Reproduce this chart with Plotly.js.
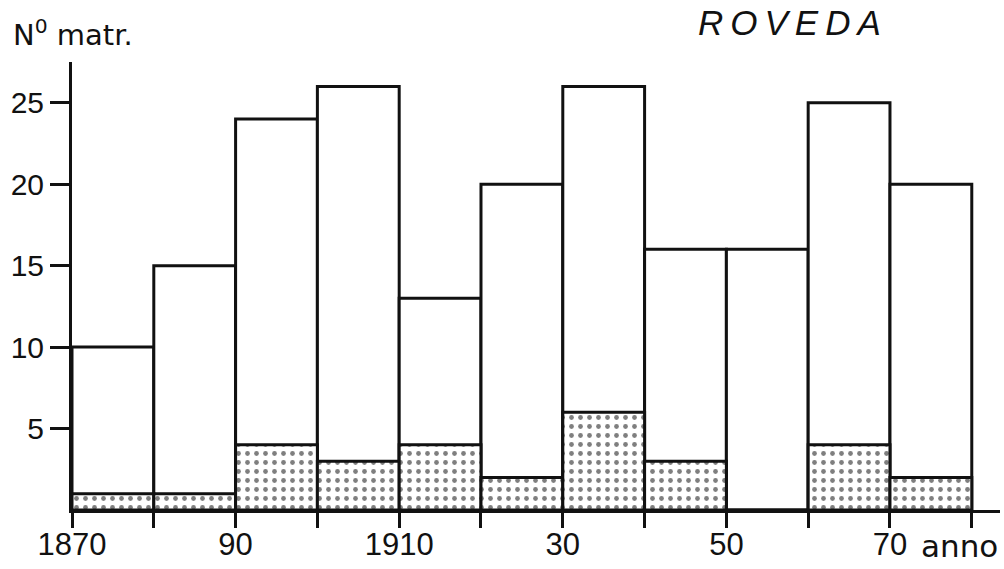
<!DOCTYPE html>
<html>
<head>
<meta charset="utf-8">
<script src="https://cdn.plot.ly/plotly-3.0.1.min.js"></script>
<style>
html,body{margin:0;padding:0;background:#fff;}
#chart{width:1004px;height:569px;}
</style>
</head>
<body>
<div id="chart"></div>
<script>
// Decade start years
const decades = [1870, 1880, 1890, 1900, 1910, 1920, 1930, 1940, 1950, 1960, 1970];
// Total number of enrolments per decade (open bars)
const totals = [10, 15, 24, 26, 13, 20, 26, 16, 16, 25, 20];
// Dotted part of each bar
const dotted = [1, 1, 4, 3, 4, 2, 6, 3, 0, 4, 2];
// X tick labels
const xTickVals = [1870, 1880, 1890, 1900, 1910, 1920, 1930, 1940, 1950, 1960, 1970, 1980];
const xTickText = ["1870", "", "90", "", "1910", "", "30", "", "50", "", "70", ""];
const yTickVals = [5, 10, 15, 20, 25];

const mids = decades.map(d => d + 5);
const fontFam = "Liberation Sans, Arial, sans-serif";
const wideFam = "DejaVu Sans, Liberation Sans, sans-serif";

const traces = [
  {
    type: 'bar', x: mids, y: totals, width: 10,
    marker: {color: '#ffffff', line: {color: '#111', width: 3}},
    hoverinfo: 'x+y', showlegend: false
  },
  {
    type: 'bar', x: mids, y: dotted, width: 10,
    marker: {
      color: '#ffffff',
      line: {color: '#111', width: 3},
      pattern: {shape: '.', fgcolor: '#000', bgcolor: '#ffffff', size: 9, solidity: 0.22, fillmode: 'overlay'}
    },
    hoverinfo: 'x+y', showlegend: false
  }
];

const layout = {
  width: 1004, height: 569,
  margin: {l: 72, r: 4, t: 62, b: 59},
  paper_bgcolor: '#fff', plot_bgcolor: '#fff',
  barmode: 'overlay',
  bargap: 0,
  font: {family: fontFam, color: '#111'},
  xaxis: {
    range: [1870, 1983.45],
    tickmode: 'array', tickvals: xTickVals, ticktext: xTickText,
    ticks: 'outside', ticklen: 15, tickwidth: 3, tickcolor: '#111',
    ticklabelstandoff: -10,
    showline: true, linecolor: '#111', linewidth: 3,
    showgrid: false, zeroline: false,
    tickfont: {size: 31, family: fontFam, color: '#111'}
  },
  yaxis: {
    range: [0, 27.5],
    tickmode: 'array', tickvals: yTickVals,
    ticks: 'outside', ticklen: 19, tickwidth: 3, tickcolor: '#111',
    showline: true, linecolor: '#111', linewidth: 3,
    showgrid: false, zeroline: false,
    tickfont: {size: 30, family: fontFam, color: '#111'}
  },
  annotations: [
    {xref: 'paper', yref: 'paper', x: -0.066, y: 1.0, yanchor: 'bottom', xanchor: 'left', yshift: 8,
     text: 'N<sup>0</sup> matr.', showarrow: false, font: {size: 29, family: wideFam, color: '#111'}},
    {xref: 'paper', yref: 'paper', x: 0.672, y: 1.0, yanchor: 'bottom', xanchor: 'left', yshift: 18,
     text: 'R\u2009O\u2009V\u2009E\u2009D\u2009A', showarrow: false,
     font: {size: 35, family: fontFam, color: '#111', style: 'italic'}},
    {xref: 'paper', yref: 'paper', x: 1.0, y: 0, yanchor: 'top', xanchor: 'right', yshift: -16,
     text: 'anno', showarrow: false, font: {size: 31, family: wideFam, color: '#111'}}
  ]
};

Plotly.newPlot('chart', traces, layout, {staticPlot: true});
</script>
</body>
</html>
